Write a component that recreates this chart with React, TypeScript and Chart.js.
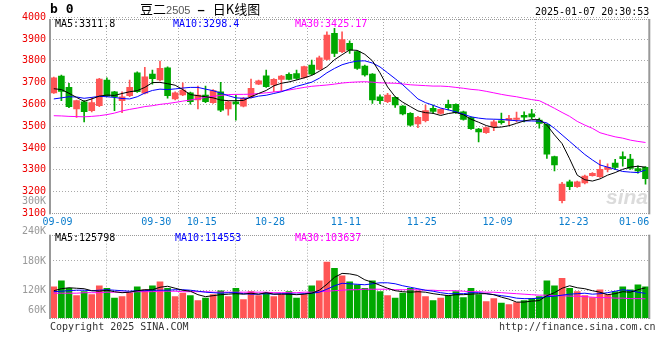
import React, { useEffect, useRef } from "react";
import { Chart, registerables } from "chart.js";
Chart.register(...registerables);

// ---- data ----
const dateTickIndex = [0, 13, 19, 28, 38, 48, 58, 68];
const dateTickLabels = ["09-09", "09-30", "10-15", "10-28", "11-11", "11-25", "12-09", "12-23"];
const lastDateLabel = "01-06";

const opens = [
  3653, 3730, 3678, 3579, 3612, 3571, 3594, 3712, 3658, 3617,
  3640, 3745, 3651, 3739, 3712, 3768, 3625, 3643, 3653, 3620,
  3643, 3608, 3658, 3579, 3612, 3592, 3635, 3693, 3731, 3689,
  3715, 3738, 3742, 3724, 3780, 3761, 3807, 3926, 3842, 3880,
  3842, 3776, 3739, 3635, 3612, 3632, 3592, 3559, 3510, 3525,
  3582, 3559, 3600, 3600, 3566, 3539, 3487, 3470, 3496, 3525,
  3528, 3531, 3550, 3557, 3528, 3508, 3360, 3158, 3245, 3222,
  3240, 3273, 3268, 3302, 3330, 3360, 3349, 3305, 3311,
];
const closes = [
  3722, 3660, 3589, 3617, 3566, 3608, 3716, 3638, 3635, 3635,
  3678, 3658, 3727, 3718, 3765, 3640, 3653, 3666, 3612, 3643,
  3612, 3663, 3574, 3612, 3602, 3628, 3674, 3708, 3681, 3715,
  3730, 3715, 3719, 3773, 3739, 3814, 3918, 3834, 3898, 3849,
  3765, 3735, 3620, 3617, 3643, 3597, 3556, 3505, 3541, 3571,
  3568, 3577, 3585, 3562, 3531, 3488, 3474, 3493, 3520, 3516,
  3536, 3537, 3541, 3543, 3513, 3372, 3322, 3234, 3222, 3245,
  3271, 3284, 3302, 3311, 3311, 3351, 3306, 3295, 3259,
];
const highs = [
  3725, 3735, 3697, 3620, 3617, 3631, 3720, 3722, 3660, 3658,
  3712, 3750, 3770, 3758, 3799, 3772, 3658, 3699, 3656, 3684,
  3684, 3668, 3701, 3615, 3643, 3632, 3716, 3712, 3758, 3718,
  3733, 3745, 3758, 3776, 3803, 3822, 3933, 3949, 3933, 3892,
  3846, 3780, 3742, 3644, 3651, 3635, 3595, 3562, 3545, 3597,
  3597, 3580, 3620, 3603, 3569, 3542, 3490, 3496, 3528, 3560,
  3550, 3565, 3566, 3577, 3537, 3511, 3363, 3242, 3253, 3248,
  3275, 3287, 3344, 3327, 3348, 3382, 3371, 3318, 3314,
];
const lows = [
  3650, 3617, 3585, 3540, 3520, 3565, 3590, 3635, 3571, 3562,
  3636, 3655, 3648, 3693, 3708, 3628, 3620, 3640, 3601, 3579,
  3608, 3604, 3567, 3551, 3528, 3588, 3630, 3690, 3678, 3658,
  3661, 3712, 3715, 3720, 3735, 3758, 3803, 3819, 3838, 3834,
  3760, 3730, 3605, 3603, 3608, 3586, 3552, 3500, 3493, 3520,
  3559, 3555, 3575, 3559, 3528, 3485, 3428, 3467, 3479, 3509,
  3505, 3519, 3519, 3534, 3491, 3352, 3294, 3148, 3209, 3219,
  3235, 3270, 3265, 3290, 3302, 3316, 3302, 3284, 3234,
];
const ma5 = [
  3672, 3668, 3651, 3632, 3614, 3625, 3638, 3643, 3641, 3650,
  3658, 3663, 3678, 3700, 3701, 3695, 3688, 3668, 3645, 3640,
  3635, 3630, 3620, 3617, 3617, 3618, 3635, 3650, 3664, 3685,
  3697, 3703, 3712, 3722, 3733, 3752, 3773, 3805, 3828, 3850,
  3848, 3830, 3800, 3745, 3680, 3635, 3610, 3590, 3570, 3562,
  3559, 3549, 3558, 3563, 3552, 3532, 3518, 3503, 3494, 3496,
  3502, 3513, 3524, 3530, 3530, 3505, 3460, 3420, 3350, 3275,
  3254, 3248, 3258, 3275, 3287, 3302, 3312, 3316, 3311.8,
];
const ma10 = [
  3625, 3630, 3635, 3634, 3628, 3632, 3637, 3635, 3632, 3627,
  3625, 3635, 3652, 3664, 3670, 3668, 3671, 3675, 3678, 3678,
  3670, 3663, 3652, 3640, 3630, 3628, 3630, 3638, 3642, 3650,
  3658, 3670, 3683, 3692, 3702, 3720, 3745, 3765, 3782, 3792,
  3799, 3800, 3790, 3772, 3745, 3718, 3690, 3658, 3625, 3608,
  3596, 3583, 3575, 3566, 3555, 3543, 3537, 3533, 3532, 3531,
  3528, 3525, 3524, 3524, 3523, 3515, 3490, 3460, 3430, 3400,
  3370, 3345, 3322, 3312, 3302, 3292, 3289, 3287, 3298.4,
];
const ma30 = [
  3548, 3547, 3545, 3544, 3543, 3545, 3548, 3553, 3560, 3570,
  3577, 3583, 3590, 3594, 3600, 3604, 3609, 3615, 3620, 3626,
  3632, 3637, 3641, 3645, 3646, 3646, 3647, 3650, 3653, 3657,
  3661, 3666, 3672, 3678, 3683, 3686, 3689, 3693, 3698, 3701,
  3703, 3704, 3702, 3699, 3698, 3697, 3694, 3690, 3688, 3686,
  3684, 3684, 3682, 3678, 3674, 3669, 3666, 3660, 3653, 3646,
  3640, 3635, 3628, 3622, 3617, 3600, 3582, 3563, 3545, 3522,
  3505, 3490, 3470, 3460, 3451, 3445, 3436, 3430, 3425.17,
];
// volume in thousands
const volumes = [
  128, 140, 125, 110, 118, 112, 130, 125, 105, 108,
  115, 128, 122, 130, 138, 125, 108, 115, 110, 100,
  105, 112, 120, 108, 125, 102, 118, 110, 115, 108,
  112, 118, 105, 112, 130, 140, 178, 165, 150, 138,
  132, 125, 140, 118, 110, 105, 115, 125, 120, 108,
  100, 105, 110, 118, 106, 125, 112, 98, 104, 95,
  92, 96, 100, 104, 108, 140, 130, 145, 125, 118,
  110, 106, 122, 112, 118, 128, 122, 132, 128,
];
const vma5 = [
  120, 124, 126, 125, 124, 120, 119, 121, 118, 116,
  117, 120, 122, 122, 127, 129, 125, 121, 119, 112,
  108, 110, 112, 113, 114, 113, 115, 113, 116, 113,
  113, 113, 112, 113, 115, 121, 133, 147, 155, 154,
  151, 142, 137, 131, 125, 120, 118, 117, 118, 117,
  114, 112, 110, 112, 112, 113, 114, 114, 112, 107,
  103, 97, 97, 99, 100, 110, 116, 125, 130, 126,
  124, 120, 117, 112, 114, 118, 117, 122, 125.8,
];
const vma10 = [
  118, 119, 120, 121, 121, 120, 121, 122, 121, 120,
  119, 120, 120, 121, 121, 121, 122, 122, 121, 119,
  117, 116, 115, 116, 116, 114, 113, 113, 114, 113,
  114, 114, 113, 114, 115, 117, 123, 130, 135, 134,
  133, 132, 134, 136, 136, 134, 130, 127, 124, 121,
  119, 116, 114, 114, 114, 116, 116, 114, 112, 110,
  108, 105, 104, 104, 105, 108, 109, 111, 113, 114,
  115, 113, 114, 116, 119, 122, 120, 117, 114.6,
];
const vma30 = [
  115, 115, 115, 115, 116, 116, 116, 117, 117, 117,
  117, 118, 118, 118, 119, 119, 119, 118, 118, 118,
  118, 117, 117, 117, 117, 117, 117, 117, 117, 116,
  116, 116, 116, 117, 117, 118, 119, 120, 121, 122,
  122, 123, 123, 123, 123, 122, 122, 122, 122, 121,
  121, 120, 120, 120, 119, 118, 118, 117, 117, 116,
  115, 114, 113, 112, 111, 111, 110, 110, 109, 109,
  108, 107, 106, 106, 105, 105, 104, 104, 103.6,
];
const priceTicks = [3100, 3200, 3300, 3400, 3500, 3600, 3700, 3800, 3900, 4000];
const volTicks = [60, 120, 180, 240, 300];

// ---- styles ----
const UP = "#ff5555";
const DOWN = "#00a800";
const GRID = "#aaaaaa";
const FRAME = "#999999";
const MONO = '"DejaVu Sans Mono", monospace';

const idx = closes.map((_, i) => i);
const candleColors = idx.map((i) => (closes[i] >= opens[i] ? UP : DOWN));

const xScaleBase = (showLabels: boolean, height: number) => ({
  type: "linear",
  position: "bottom",
  min: -0.5,
  max: closes.length - 0.5,
  offset: false,
  afterBuildTicks: (s: any) => {
    const t = dateTickIndex.map((k) => ({ value: k + 0.5 }));
    if (showLabels) t.push({ value: closes.length - 2.5 });
    s.ticks = t;
  },
  afterFit: (s: any) => {
    s.height = height;
  },
  ticks: {
    display: showLabels,
    autoSkip: false,
    maxRotation: 0,
    padding: 3,
    color: "#0a7ccc",
    font: { family: MONO, size: 10 },
    callback: (_v: any, i: number) => (i < dateTickLabels.length ? dateTickLabels[i] : lastDateLabel),
  },
  grid: {
    color: (c: any) => (c.index < dateTickLabels.length ? GRID : "rgba(0,0,0,0)"),
    drawTicks: false,
    lineWidth: 1,
  },
  border: { display: false, dash: [1, 2] },
});

const framePlugin = {
  id: "frame",
  afterDraw(chart: any) {
    const { ctx, chartArea: a } = chart;
    ctx.save();
    ctx.fillStyle = FRAME;
    ctx.fillRect(a.left - 1, a.top, 2, a.bottom - a.top + 1);
    ctx.fillRect(a.right - 1, a.top, 2, a.bottom - a.top + 1);
    ctx.strokeStyle = FRAME;
    ctx.lineWidth = 1;
    ctx.setLineDash([1, 1]);
    ctx.beginPath();
    ctx.moveTo(a.left, Math.round(a.top) + 0.5);
    ctx.lineTo(a.right, Math.round(a.top) + 0.5);
    ctx.moveTo(a.left, Math.round(a.bottom) + 0.5);
    ctx.lineTo(a.right, Math.round(a.bottom) + 0.5);
    ctx.stroke();
    ctx.restore();
  },
};

const volLabelPlugin = {
  id: "volLabels",
  afterDraw(chart: any) {
    const { ctx, chartArea: a } = chart;
    const y = chart.scales.y;
    ctx.save();
    ctx.font = `10px ${MONO}`;
    ctx.fillStyle = "#999999";
    ctx.textAlign = "right";
    ctx.textBaseline = "middle";
    volTicks.forEach((v) => {
      let py = y.getPixelForValue(v);
      if (py > a.bottom - 8) py = a.bottom - 8;
      ctx.fillText(`${v}K`, a.left - 4, py);
    });
    ctx.restore();
  },
};

const lineDs = (data: number[], color: string) => ({
  type: "line",
  data: idx.map((i) => ({ x: i, y: data[i] })),
  borderColor: color,
  borderWidth: 1,
  pointRadius: 0,
  tension: 0,
  order: 0,
});

function PriceChart() {
  const ref = useRef<HTMLCanvasElement>(null);
  useEffect(() => {
    const chart = new Chart(ref.current as HTMLCanvasElement, {
      type: "bar",
      data: {
        datasets: [
          lineDs(ma5, "#000000"),
          lineDs(ma10, "#0000ff"),
          lineDs(ma30, "#ff00ff"),
          {
            type: "bar",
            data: idx.map((i) => ({ x: i, y: [lows[i], highs[i]] })),
            backgroundColor: candleColors,
            barThickness: 1,
            grouped: false,
            order: 2,
          },
          {
            type: "bar",
            data: idx.map((i) => ({ x: i, y: [opens[i], closes[i]] })),
            backgroundColor: candleColors,
            barThickness: 6,
            minBarLength: 1,
            grouped: false,
            order: 1,
          },
        ],
      } as any,
      options: {
        responsive: false,
        animation: false,
        devicePixelRatio: 1,
        events: [],
        layout: { padding: { left: 0, right: 10.7, top: 19, bottom: 0 } },
        plugins: { legend: { display: false }, tooltip: { enabled: false } },
        scales: {
          x: xScaleBase(true, 18.7) as any,
          y: {
            type: "linear",
            position: "left",
            min: 3100,
            max: 3992,
            afterBuildTicks: (s: any) => {
              s.ticks = priceTicks.map((v) => ({ value: v }));
            },
            afterFit: (s: any) => {
              s.width = 50;
            },
            ticks: {
              autoSkip: false,
              padding: 4,
              color: "#ee0000",
              font: { family: MONO, size: 10 },
              callback: (v: any) => String(v),
            },
            grid: {
              color: (c: any) => (c.tick && c.tick.value === 3100 ? "rgba(0,0,0,0)" : GRID),
              drawTicks: false,
            },
            border: { display: false, dash: [1, 2] },
          },
        },
      } as any,
      plugins: [framePlugin],
    });
    return () => chart.destroy();
  }, []);
  return (
    <canvas
      ref={ref}
      width={660}
      height={232}
      style={{ position: "absolute", left: 0, top: 0, width: 660, height: 232 }}
    />
  );
}

function VolumeChart() {
  const ref = useRef<HTMLCanvasElement>(null);
  useEffect(() => {
    const chart = new Chart(ref.current as HTMLCanvasElement, {
      type: "bar",
      data: {
        datasets: [
          lineDs(vma5, "#000000"),
          lineDs(vma10, "#0000ff"),
          lineDs(vma30, "#ff00ff"),
          {
            type: "bar",
            data: idx.map((i) => ({ x: i, y: volumes[i] })),
            backgroundColor: candleColors,
            barThickness: 6,
            grouped: false,
            order: 1,
          },
        ],
      } as any,
      options: {
        responsive: false,
        animation: false,
        devicePixelRatio: 1,
        events: [],
        layout: { padding: { left: 0, right: 10.7, top: 44.7, bottom: 42 } },
        plugins: { legend: { display: false }, tooltip: { enabled: false } },
        scales: {
          x: xScaleBase(false, 0) as any,
          y: {
            type: "linear",
            position: "left",
            min: 64.9,
            max: 233.1,
            afterBuildTicks: (s: any) => {
              s.ticks = [120, 180].map((v) => ({ value: v }));
            },
            afterFit: (s: any) => {
              s.width = 50;
            },
            ticks: { display: false },
            grid: { color: GRID, drawTicks: false },
            border: { display: false, dash: [1, 2] },
          },
        },
      } as any,
      plugins: [framePlugin, volLabelPlugin],
    });
    return () => chart.destroy();
  }, []);
  return (
    <canvas
      ref={ref}
      width={660}
      height={170}
      style={{ position: "absolute", left: 0, top: 190, width: 660, height: 170 }}
    />
  );
}

const txt = (left: number, top: number, extra: React.CSSProperties = {}): React.CSSProperties => ({
  position: "absolute",
  left,
  top,
  whiteSpace: "nowrap",
  fontFamily: MONO,
  fontSize: 10,
  lineHeight: "12px",
  ...extra,
});

export default function App() {
  return (
    <div
      style={{
        position: "absolute",
        left: 0,
        top: 0,
        width: 660,
        height: 360,
        background: "#ffffff",
        overflow: "hidden",
      }}
    >
      <PriceChart />
      <VolumeChart />
      <div style={txt(50, 2, { fontWeight: "bold", fontSize: 13, lineHeight: "14px", color: "#000" })}>b 0</div>
      <div
        style={txt(140, 1, {
          fontFamily: '"Noto Sans CJK SC", sans-serif',
          fontSize: 13,
          lineHeight: "16px",
          color: "#000",
        })}
      >
        豆二
        <span style={{ fontFamily: '"Liberation Sans", sans-serif', fontSize: 11, color: "#555" }}>2505</span>
        <span
          style={{
            fontFamily: '"Liberation Sans", sans-serif',
            fontSize: 13,
            fontWeight: "bold",
            marginLeft: 7,
            marginRight: 8,
          }}
        >
          {"\u2013"}
        </span>
        日K线图
      </div>
      <div style={txt(535, 6, { color: "#000" })}>2025-01-07 20:30:53</div>
      <div style={txt(55, 18, { color: "#000" })}>MA5:3311.8</div>
      <div style={txt(173, 18, { color: "#0000ff" })}>MA10:3298.4</div>
      <div style={txt(295, 18, { color: "#ff00ff" })}>MA30:3425.17</div>
      <div style={txt(55, 232, { color: "#000" })}>MA5:125798</div>
      <div style={txt(175, 232, { color: "#0000ff" })}>MA10:114553</div>
      <div style={txt(295, 232, { color: "#ff00ff" })}>MA30:103637</div>
      <div style={txt(50, 321, { color: "#333" })}>Copyright 2025 SINA.COM</div>
      <div style={txt(499, 321, { color: "#333" })}>http://finance.sina.com.cn</div>
      <div
        style={txt(606, 186, {
          fontFamily: '"Liberation Sans", sans-serif',
          fontSize: 21,
          lineHeight: "22px",
          fontStyle: "italic",
          fontWeight: "bold",
          color: "rgba(190,190,190,0.55)",
        })}
      >
        sina
      </div>
    </div>
  );
}
